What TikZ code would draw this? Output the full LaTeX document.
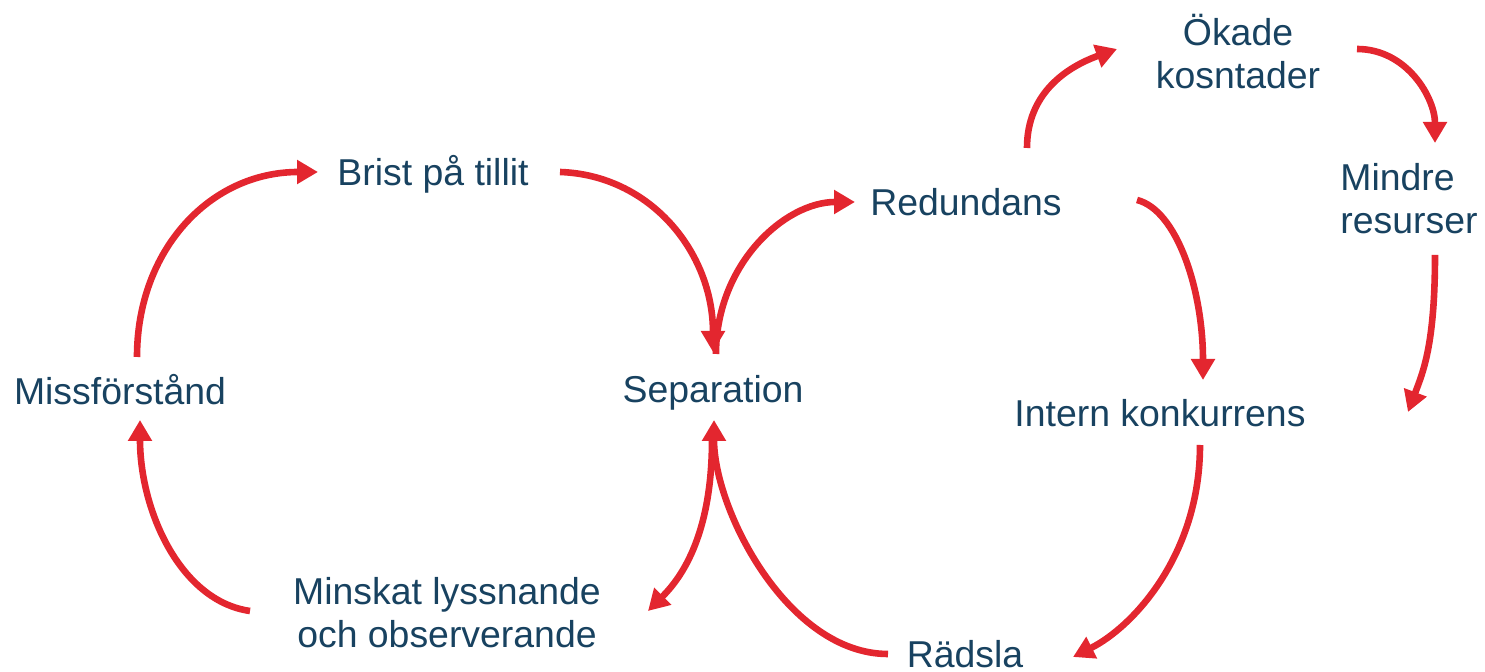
\documentclass[tikz,border=0pt]{standalone}
\usepackage{fontspec}
\setmainfont{Liberation Sans}
\usetikzlibrary{arrows.meta,calc}
\definecolor{txt}{RGB}{24,66,96}
\definecolor{arr}{RGB}{227,38,47}
\begin{document}
\begin{tikzpicture}[x=0.5pt,y=-0.5pt,
  lbl/.style={inner sep=0pt,text=txt,font=\fontsize{18.7}{21.5}\selectfont},
  conn/.style={draw=arr,line width=3.3pt,-{Triangle[length=10.5pt,width=11.5pt]}}]
\useasboundingbox (0,0) rectangle (1485,672);
\node[lbl] (miss) at (120,390) {Missförstånd};
\node[lbl,anchor=base] (brist) at (433,186) {Brist på tillit};
\node[lbl,anchor=base] (sep) at (713,403) {Separation};
\node[lbl] (red) at (966,202) {Redundans};
\node[lbl,align=center] (oka) at (1238,52) {Ökade\\kosntader};
\node[lbl,align=left,anchor=west] (min) at (1340,199) {Mindre\\resurser};
\node[lbl] (int) at (1160,413) {Intern konkurrens};
\node[lbl] (rad) at (965,654) {Rädsla};
\node[lbl,align=center] (lys) at (447,613) {Minskat lyssnande\\och observerande};
\coordinate (free) at (1408,412);
\coordinate (sepc) at (713,390);

\draw[conn] ($(miss)+(17,-33)$) .. controls +(0,-107) and +(-108,0) .. ($(brist.base)+(-115,-14)$);
\draw[conn] ($(brist.base)+(127,-14)$) .. controls +(90,3) and +(0,-100) .. ($(sepc)+(0,-38)$);
\draw[conn] ($(sepc)+(3,-36)$) .. controls +(0,-90) and +(-70,0) .. ($(red)+(-111,0)$);
\draw[conn] ($(red)+(61,-54)$) .. controls +(0,-55) and +(-50,18) .. ($(oka)+(-121,-3)$);
\draw[conn] ($(oka)+(119,-3)$) .. controls +(50,0) and +(0,-45) .. ($(min.west)+(95,-56)$);
\draw[conn] ($(min.west)+(95,56)$) .. controls +(0,90) and +(15,-40) .. (free);
\draw[conn] ($(red)+(171,-2)$) .. controls +(40,10) and +(0,-90) .. ($(int)+(43,-33)$);
\draw[conn] ($(int)+(40,32)$) .. controls +(0,110) and +(60,-30) .. ($(rad)+(108,3)$);
\draw[conn] ($(rad)+(-77,0)$) .. controls +(-100,0) and +(0,90) .. ($(sepc)+(1,30)$);
\draw[conn] ($(sepc)+(-1,50)$) .. controls +(0,100) and +(30,-30) .. ($(lys)+(201,-2)$);
\draw[conn] ($(lys)+(-197,-2)$) .. controls +(-70,-10) and +(0,90) .. ($(miss)+(20,30)$);
\end{tikzpicture}
\end{document}
